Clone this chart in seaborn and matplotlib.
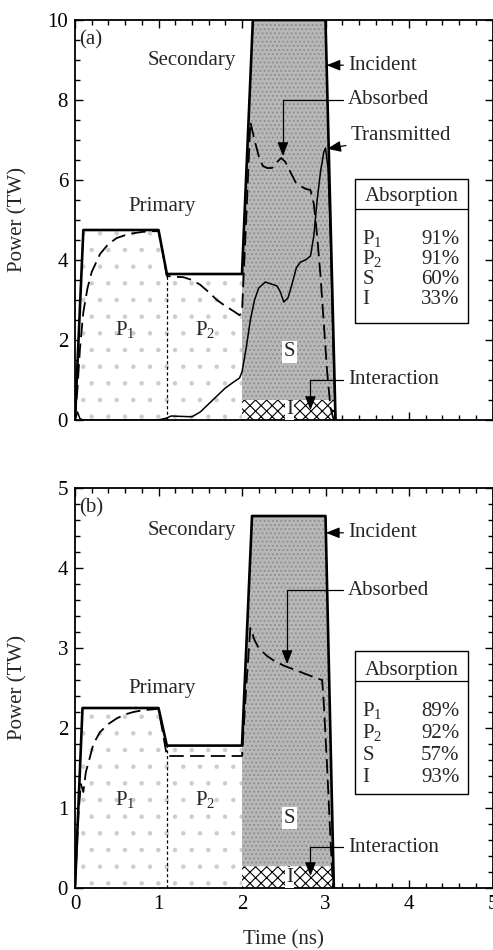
import numpy as np
import matplotlib
matplotlib.use("Agg")
import matplotlib.pyplot as plt
from matplotlib.patches import Rectangle
from matplotlib.lines import Line2D
import seaborn as sns

# ---- values ----
# panel (a)
T_INC_A = [0.0, 0.10, 1.00, 1.10, 2.00, 2.13, 3.00, 3.12]
P_INC_A = [0.0, 4.75, 4.75, 3.65, 3.65, 10.0, 10.0, 0.0]

T_ABS_A = [0.0, 0.03, 0.06, 0.10, 0.15, 0.20, 0.30, 0.40, 0.50, 0.60, 0.70, 0.80,
           0.90, 1.00, 1.05, 1.10, 1.20, 1.30, 1.40, 1.50, 1.60, 1.70, 1.80, 1.90,
           1.97, 2.00, 2.05, 2.10, 2.15, 2.20, 2.25, 2.30, 2.36, 2.42, 2.47, 2.52,
           2.58, 2.64, 2.70, 2.76, 2.82, 2.86, 2.90, 2.94, 2.98, 3.02, 3.06, 3.10]
P_ABS_A = [0.0, 0.8, 1.8, 2.7, 3.3, 3.7, 4.15, 4.4, 4.55, 4.62, 4.67, 4.7,
           4.72, 4.72, 4.2, 3.6, 3.58, 3.57, 3.5, 3.38, 3.2, 3.0, 2.85, 2.72,
           2.62, 2.7, 5.0, 7.45, 7.0, 6.6, 6.35, 6.3, 6.3, 6.45, 6.55, 6.45,
           6.2, 5.95, 5.85, 5.78, 5.75, 5.4, 4.6, 3.6, 2.4, 1.2, 0.3, 0.0]

T_TRA_A = [0.0, 0.03, 0.06, 0.10, 1.00, 1.10, 1.15, 1.40, 1.50, 1.60, 1.70, 1.80,
           1.90, 1.97, 2.00, 2.05, 2.10, 2.15, 2.20, 2.28, 2.35, 2.42, 2.46, 2.50,
           2.55, 2.60, 2.65, 2.70, 2.76, 2.82, 2.86, 2.90, 2.94, 2.98, 3.00, 3.03,
           3.06, 3.09, 3.12]
P_TRA_A = [0.0, 0.2, 0.03, 0.0, 0.0, 0.05, 0.1, 0.08, 0.2, 0.4, 0.6, 0.8,
           0.95, 1.05, 1.2, 1.8, 2.5, 3.0, 3.3, 3.45, 3.4, 3.35, 3.2, 2.95,
           3.05, 3.4, 3.8, 3.95, 4.0, 4.1, 4.6, 5.5, 6.2, 6.7, 6.8, 6.3,
           4.5, 2.0, 0.0]

ABS_A = [91, 91, 60, 33]
I_LEVEL_A = 0.5

# panel (b)
T_INC_B = [0.0, 0.09, 1.00, 1.10, 2.00, 2.12, 3.00, 3.10]
P_INC_B = [0.0, 2.25, 2.25, 1.78, 1.78, 4.65, 4.65, 0.0]

T_ABS_B = [0.0, 0.04, 0.07, 0.10, 0.13, 0.17, 0.22, 0.30, 0.40, 0.50, 0.60, 0.70,
           0.80, 0.90, 1.00, 1.05, 1.10, 2.00, 2.05, 2.10, 2.15, 2.20, 2.30, 2.40,
           2.50, 2.60, 2.70, 2.80, 2.90, 2.96, 2.98, 3.02, 3.06, 3.09]
P_ABS_B = [0.0, 0.9, 1.3, 1.2, 1.45, 1.6, 1.8, 1.95, 2.05, 2.12, 2.17, 2.2,
           2.22, 2.23, 2.24, 1.95, 1.65, 1.65, 2.5, 3.25, 3.1, 3.0, 2.9, 2.83,
           2.78, 2.74, 2.7, 2.66, 2.62, 2.6, 2.3, 1.5, 0.6, 0.0]

ABS_B = [89, 92, 57, 93]
I_LEVEL_B = 0.27

ROW_LABELS = [r'$\mathrm{P}_1$', r'$\mathrm{P}_2$', 'S', 'I']
P_SPLIT = 1.1      # boundary between P1 and P2
T_SEC = 2.0        # start of secondary pulse

FS = 15

sns.set_theme(style='ticks')
plt.rcParams['font.family'] = ['Liberation Serif', 'DejaVu Serif']
plt.rcParams['mathtext.fontset'] = 'custom'
plt.rcParams['mathtext.rm'] = 'Liberation Serif'
plt.rcParams['mathtext.it'] = 'Liberation Serif:italic'
plt.rcParams['hatch.linewidth'] = 0.8


def draw_regions(ax, t_inc, p_inc, i_level):
    t = np.union1d(np.linspace(t_inc[0], t_inc[-1], 2000), np.array(t_inc + [T_SEC]))
    inc = np.interp(t, t_inc, p_inc)
    low = np.minimum(inc, i_level)
    ax.fill_between(t, 0, inc, where=t <= T_SEC, facecolor='white',
                    edgecolor='#cdcdcd', hatch='.', linewidth=0)
    ax.fill_between(t, low, inc, where=t >= T_SEC, facecolor='#b8b8b8',
                    edgecolor='#8c8c8c', hatch='....', linewidth=0)
    ax.fill_between(t, 0, low, where=t >= T_SEC, facecolor='white',
                    edgecolor='black', hatch='xxx', linewidth=0)
    top = np.interp(P_SPLIT, t_inc, p_inc)
    sns.lineplot(x=[P_SPLIT, P_SPLIT], y=[0, top], ax=ax, color='black', lw=0.9,
                 linestyle=(0, (2.5, 2)), estimator=None, sort=False)


def draw_lines(ax, t_inc, p_inc, t_abs, p_abs, t_tra=None, p_tra=None):
    if t_tra is not None:
        sns.lineplot(x=t_tra, y=p_tra, ax=ax, color='black', lw=1.1,
                     estimator=None, sort=False)
    sns.lineplot(x=t_abs, y=p_abs, ax=ax, color='black', lw=1.3,
                 linestyle=(0, (8, 3.5)), estimator=None, sort=False)
    sns.lineplot(x=t_inc, y=p_inc, ax=ax, color='black', lw=1.9,
                 estimator=None, sort=False)


def note(ax, text, xy, xytext, elbow=False):
    cs = 'angle,angleA=0,angleB=90,rad=0' if elbow else 'arc3'
    ax.annotate(text, xy=xy, xytext=xytext, ha='left', va='center', fontsize=FS,
                arrowprops=dict(arrowstyle='-|>,head_length=0.55,head_width=0.22',
                                color='black', lw=0.9, shrinkA=1, shrinkB=0,
                                connectionstyle=cs))


def absorption_table(ax, values, top, bottom, line_y, head_y, row0, step):
    x0, x1 = 0.671, 0.941
    ax.add_patch(Rectangle((x0, bottom), x1 - x0, top - bottom, transform=ax.transAxes,
                           fill=True, facecolor='white', edgecolor='black', lw=1.0, zorder=5))
    ax.add_line(Line2D([x0, x1], [line_y, line_y], transform=ax.transAxes,
                       color='black', lw=0.9, zorder=6))
    ax.text((x0 + x1) / 2, head_y - 0.016, 'Absorption', ha='center', va='baseline',
            transform=ax.transAxes, fontsize=FS, zorder=6)
    for i, (lab, val) in enumerate(zip(ROW_LABELS, values)):
        y = row0 - i * step - 0.016
        ax.text(x0 + 0.017, y, lab, ha='left', va='baseline', transform=ax.transAxes,
                fontsize=FS, zorder=6)
        ax.text(x1 - 0.02, y, f'{val}%', ha='right', va='baseline',
                transform=ax.transAxes, fontsize=FS, zorder=6)


def style_axes(ax, ymax, ymajor, yminor, xlabels):
    ax.set_xlim(0, 5)
    ax.set_ylim(0, ymax)
    ax.set_xticks(np.arange(0, 6, 1))
    ax.set_xticks(np.arange(0, 5.01, 0.2), minor=True)
    ax.set_yticks(np.arange(0, ymax + 0.01, ymajor))
    ax.set_yticks(np.arange(0, ymax + 0.01, yminor), minor=True)
    ax.tick_params(which='both', direction='in', top=True, right=True,
                   labelsize=FS, width=1.0, colors='black')
    ax.tick_params(which='major', length=6, pad=5)
    ax.tick_params(which='minor', length=3.5)
    if not xlabels:
        ax.tick_params(axis='x', labelbottom=False)
    for s in ax.spines.values():
        s.set_linewidth(1.3)
        s.set_color('black')
        s.set_visible(True)
    ax.set_ylabel('Power (TW)', fontsize=FS)
    ax.yaxis.set_label_coords(-0.113, 0.5)
    ax.set_xlabel('')


fig = plt.figure(figsize=(4.93, 9.5), dpi=100)
ax_a = fig.add_axes([75 / 493, 1 - 420 / 950, 417.5 / 493, 400 / 950])
ax_b = fig.add_axes([75 / 493, 1 - 888 / 950, 417.5 / 493, 400 / 950])

# ---- panel (a) ----
draw_regions(ax_a, T_INC_A, P_INC_A, I_LEVEL_A)
draw_lines(ax_a, T_INC_A, P_INC_A, T_ABS_A, P_ABS_A, T_TRA_A, P_TRA_A)
style_axes(ax_a, 10, 2, 0.5, xlabels=False)
ax_a.text(0.19, 9.5, '(a)', ha='center', va='center', fontsize=FS)
ax_a.text(1.40, 9.0, 'Secondary', ha='center', va='center', fontsize=FS)
ax_a.text(1.04, 5.35, 'Primary', ha='center', va='center', fontsize=FS)
ax_a.text(0.60, 2.25, r'$\mathrm{P}_1$', ha='center', va='center', fontsize=FS)
ax_a.text(1.56, 2.25, r'$\mathrm{P}_2$', ha='center', va='center', fontsize=FS)
ax_a.text(2.57, 1.7, 'S', ha='center', va='center', fontsize=FS,
          bbox=dict(facecolor='white', edgecolor='none', pad=1))
ax_a.text(2.57, 0.25, 'I', ha='center', va='center', fontsize=FS,
          bbox=dict(facecolor='white', edgecolor='none', pad=0.5))
note(ax_a, 'Incident', (3.013, 8.87), (3.27, 8.87))
note(ax_a, 'Absorbed', (2.49, 6.6), (3.27, 8.0), elbow=True)
note(ax_a, 'Transmitted', (3.02, 6.78), (3.30, 7.1))
note(ax_a, 'Interaction', (2.82, 0.25), (3.27, 1.0), elbow=True)
absorption_table(ax_a, ABS_A, 0.6025, 0.2425, 0.5275, 0.5625, 0.455, 0.0493)

# ---- panel (b) ----
draw_regions(ax_b, T_INC_B, P_INC_B, I_LEVEL_B)
draw_lines(ax_b, T_INC_B, P_INC_B, T_ABS_B, P_ABS_B)
style_axes(ax_b, 5, 1, 0.2, xlabels=True)
ax_b.text(0.19, 4.75, '(b)', ha='center', va='center', fontsize=FS)
ax_b.text(1.40, 4.47, 'Secondary', ha='center', va='center', fontsize=FS)
ax_b.text(1.04, 2.5, 'Primary', ha='center', va='center', fontsize=FS)
ax_b.text(0.60, 1.1, r'$\mathrm{P}_1$', ha='center', va='center', fontsize=FS)
ax_b.text(1.56, 1.1, r'$\mathrm{P}_2$', ha='center', va='center', fontsize=FS)
ax_b.text(2.57, 0.87, 'S', ha='center', va='center', fontsize=FS,
          bbox=dict(facecolor='white', edgecolor='none', pad=1))
ax_b.text(2.57, 0.13, 'I', ha='center', va='center', fontsize=FS,
          bbox=dict(facecolor='white', edgecolor='none', pad=0.5))
note(ax_b, 'Incident', (3.005, 4.44), (3.27, 4.44))
note(ax_b, 'Absorbed', (2.54, 2.8), (3.27, 3.72), elbow=True)
note(ax_b, 'Interaction', (2.82, 0.15), (3.27, 0.51), elbow=True)
absorption_table(ax_b, ABS_B, 0.593, 0.234, 0.5165, 0.5475, 0.447, 0.0557)
ax_b.set_xlabel('Time (ns)', fontsize=FS)
ax_b.xaxis.set_label_coords(0.5, -0.105)

fig.savefig('out.png', dpi=100)
